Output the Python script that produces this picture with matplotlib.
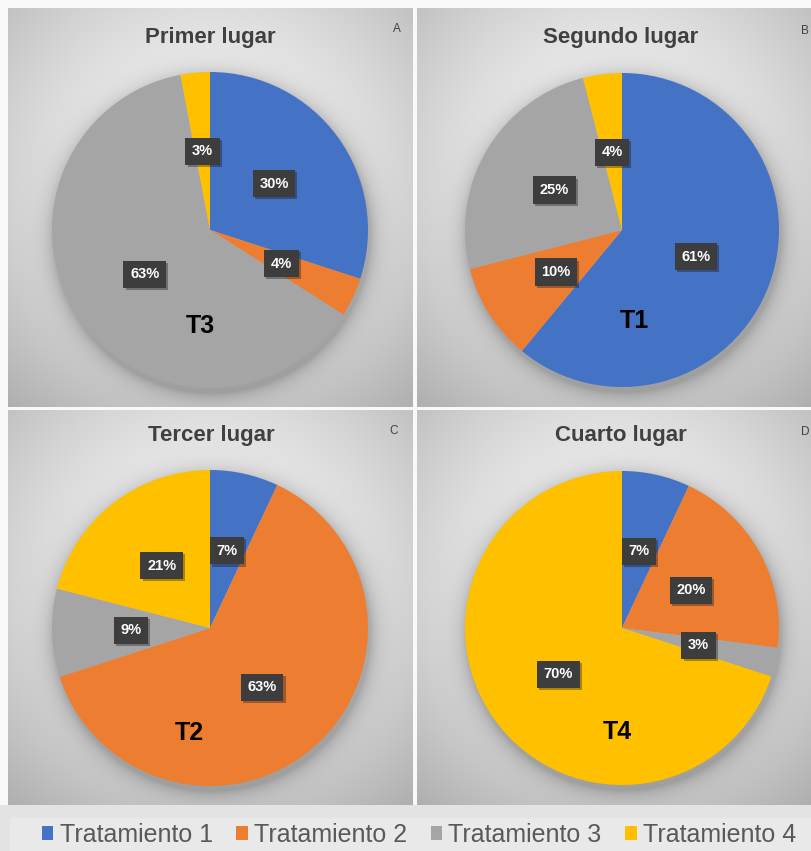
import numpy as np
import matplotlib
matplotlib.use("Agg")
import matplotlib.pyplot as plt
from matplotlib.patches import Patch
import matplotlib.patheffects as pe

plt.rcParams['font.family'] = ['Liberation Sans', 'DejaVu Sans']

# ---------------- data ----------------
categories = ["Tratamiento 1", "Tratamiento 2", "Tratamiento 3", "Tratamiento 4"]
colors = ["#4472C4", "#ED7D31", "#A5A5A5", "#FFC000"]
titles = ["Primer lugar", "Segundo lugar", "Tercer lugar", "Cuarto lugar"]
panel_letters = ["A", "B", "C", "D"]
winner_labels = ["T3", "T1", "T2", "T4"]
primer = [30, 4, 63, 3]
segundo = [61, 10, 25, 4]
tercer = [7, 63, 9, 21]
cuarto = [7, 20, 3, 70]
series = [primer, segundo, tercer, cuarto]

W, H = 811, 851
fig = plt.figure(figsize=(W / 100, H / 100), dpi=100)
fig.patch.set_facecolor("#f9f9f9")

# layout (pixels, top-origin)
panels = [(8, 8, 413, 407), (417, 8, 811, 407), (8, 410, 413, 805), (417, 410, 811, 805)]
centers = [(210, 230, 158), (622, 230, 157), (210, 628, 158), (622, 628, 157)]
title_pos = [(210, 38), (621, 37), (211, 436), (621, 436)]
letter_pos = [(397, 29), (805, 31), (394, 431), (805, 432)]
winner_pos = [(200, 326), (634, 321), (189, 733), (617, 732)]


def fxy(px, py):
    return px / W, 1 - py / H


# legend strip background
lg = fig.add_axes([0, 0, 1, 1 - 805 / H])
lg.set_xlim(0, 1); lg.set_ylim(0, 1)
lg.axis("off")
lg.add_patch(plt.Rectangle((0, 0), 1, 1, color="#e3e3e3", transform=lg.transAxes))
lg.add_patch(plt.Rectangle((10 / W, 0), 1, 0.72, color="#e9e9e9", transform=lg.transAxes))

for i in range(4):
    x0, y0, x1, y1 = panels[i]
    cx, cy, r = centers[i]
    bg = fig.add_axes([x0 / W, 1 - y1 / H, (x1 - x0) / W, (y1 - y0) / H])
    w, h = x1 - x0, y1 - y0
    yy, xx = np.mgrid[0:h, 0:w]
    px = xx + x0 + 0.5
    py = yy + y0 + 0.5
    # radial gradient background
    pcx, pcy = (x0 + x1) / 2, (y0 + y1) / 2 - 40
    rr = np.sqrt(((px - pcx) / (w * 0.62)) ** 2 + ((py - pcy) / (h * 0.62)) ** 2)
    val = 0.96 - 0.19 * np.clip(rr, 0, 1.3) ** 1.6
    # soft pie shadow
    d = np.sqrt((px - cx - 2) ** 2 + (py - cy - 5) ** 2)
    sh = np.exp(-np.clip(d - r, 0, None) / 9.0) * 0.22
    val = val * (1 - sh)
    img = np.dstack([val, val, val])
    bg.imshow(img, extent=(0, 1, 0, 1), aspect="auto", interpolation="bilinear")
    bg.axis("off")

    pax = fig.add_axes([(cx - r) / W, 1 - (cy + r) / H, 2 * r / W, 2 * r / H])
    wedges, texts, autotexts = pax.pie(
        series[i], colors=colors, startangle=90, counterclock=False,
        autopct=lambda p: f"{p:.0f}%", pctdistance=0.5,
        wedgeprops=dict(linewidth=0))
    pax.set_xlim(-1, 1); pax.set_ylim(-1, 1)
    pax.patch.set_alpha(0)
    for t in autotexts:
        t.set_color("white")
        t.set_fontweight("bold")
        t.set_fontsize(10.5)
        t.set_bbox(dict(boxstyle="square,pad=0.45", facecolor="#3d3d3d", edgecolor="none",
                        path_effects=[pe.SimplePatchShadow(offset=(1.5, -1.5), alpha=0.35),
                                      pe.Normal()]))

    tx, ty = fxy(*title_pos[i])
    fig.text(tx, ty, titles[i], ha="center", va="center", fontsize=16,
             fontweight="bold", color="#404040")
    lx, ly = fxy(*letter_pos[i])
    fig.text(lx, ly, panel_letters[i], ha="center", va="center", fontsize=8.5, color="#404040")
    wx, wy = fxy(*winner_pos[i])
    fig.text(wx, wy, winner_labels[i], ha="center", va="center", fontsize=18,
             fontweight="bold", color="black")

handles = [Patch(facecolor=c, edgecolor="none") for c in colors]
fig.legend(handles, categories, loc="center", bbox_to_anchor=(419 / W, 1 - 835 / H),
           ncol=4, frameon=False, fontsize=18, handlelength=0.45, handleheight=0.45,
           handletextpad=0.25, columnspacing=0.95, labelcolor="#595959")

fig.savefig("out.png", dpi=100, facecolor=fig.get_facecolor())
